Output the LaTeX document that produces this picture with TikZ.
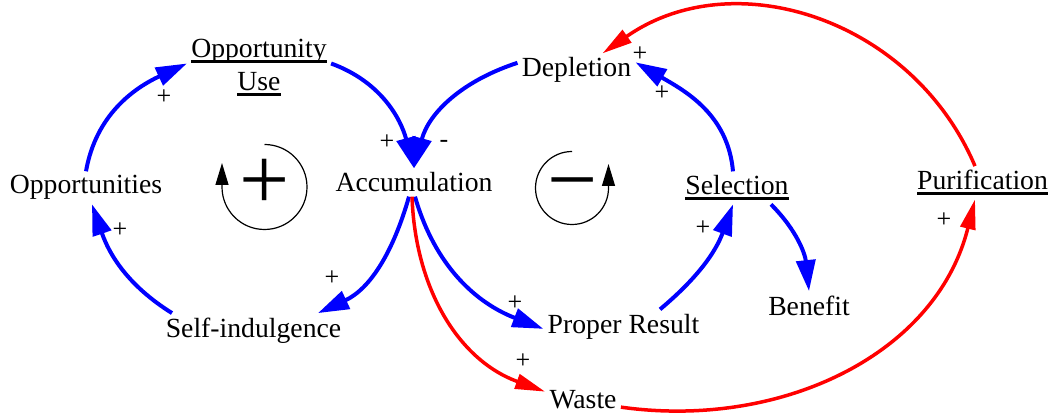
\documentclass[tikz,border=0pt]{standalone}
\usepackage{fontspec}
\setmainfont{Liberation Serif}
\usepackage{tikz}
\usetikzlibrary{arrows.meta, calc}

\newcommand{\varul}[1]{\vtop{\setbox0\hbox{#1}\dp0=0pt\box0\kern1.2pt\hrule height 1.3pt}}

\tikzset{
  var/.style={inner sep=2pt, font=\fontsize{13.85}{16.5}\selectfont},
  sgn/.style={inner sep=0pt, font=\fontsize{13}{13}\selectfont},
  loopsgn/.style={inner sep=0pt, anchor=base, font=\fontsize{44.5}{44.5}\selectfont},
  bluelink/.style={draw=blue, line width=2pt, -{Triangle[length=15.5pt, width=9.5pt]}},
  redlink/.style={draw=red, line width=1.75pt, -{Triangle[length=15pt, width=7.5pt]}},
  looparrow/.style={line width=0.6pt, -{Triangle[length=11pt, width=6.5pt]}}
}

\begin{document}
\begin{tikzpicture}[x=0.5pt, y=-0.5pt]
\useasboundingbox (0,0) rectangle (1052,416);

% Variables
\node[var, anchor=base] (opps) at (86,194) {Opportunities};
\node[var, align=center] (use) at (259,67.5) {\varul{Opportunity}\\\varul{Use}};
\node[var, anchor=base] (acc) at (414,192) {Accumulation};
\node[var, anchor=base] (depl) at (576.5,77) {Depletion};
\node[var, anchor=base] (sel) at (737,195) {\varul{Selection}};
\node[var, anchor=base] (pur) at (982.5,190) {\varul{Purification}};
\node[var, anchor=base] (ben) at (809,315) {Benefit};
\node[var, anchor=base] (pres) at (623.5,333) {Proper Result};
\node[var, anchor=base] (waste) at (583,408) {Waste};
\node[var, anchor=base] (self) at (253.5,337) {Self-indulgence};

% Blue links
\draw[bluelink] (opps.north) to[out=80, in=205] ([yshift=2pt]use.west);
\draw[bluelink] ([yshift=2pt]use.east) to[out=-20, in=105] (acc.north);
\draw[bluelink] ([yshift=3.75pt]depl.west) to[out=198, in=75] (acc.north);
\draw[bluelink] ([xshift=-2pt]sel.north) to[out=95, in=-30] ([yshift=4pt]depl.east);
\draw[bluelink] ([xshift=-2.5pt]acc.south) to[out=-106, in=25] ([xshift=32.25pt]self.north);
\draw[bluelink] ([xshift=-40.75pt]self.north) to[out=148, in=-71] ([xshift=3pt]opps.south);
\draw[bluelink] ([xshift=0.5pt]acc.south) to[out=-74, in=159] ([yshift=-1.25pt]pres.west);
\draw[bluelink] ([xshift=18.25pt]pres.north) to[out=40, in=-110] ([xshift=-2pt]sel.south);
\draw[bluelink] ([xshift=17pt]sel.south) to[out=-45, in=96] (ben.north);

% Red links
\draw[redlink] ([xshift=-1pt]acc.south) to[out=-88, in=160] ([yshift=3.75pt]waste.west);
\draw[redlink] ([yshift=-4pt]waste.east) to[out=-8, in=-104] ([xshift=-3.75pt]pur.south);
\draw[redlink] ([xshift=-3.75pt]pur.north) to[out=113, in=35, looseness=1.05] ([xshift=13pt]depl.north);

% Polarities
\node[sgn] (s1) at (164,97) {+};
\node[sgn] (s2) at (387,142) {+};
\node[sgn] (s3) at (444,144) {-};
\node[sgn] (s4) at (662,93) {+};
\node[sgn] (s5) at (640,54) {+};
\node[sgn] (s6) at (332,278) {+};
\node[sgn] (s7) at (120,230) {+};
\node[sgn] (s8) at (515,303) {+};
\node[sgn] (s9) at (523,361) {+};
\node[sgn] (s10) at (703,228) {+};
\node[sgn] (s11) at (944,220) {+};

% Loop markers
\coordinate (rloop) at (264.5,187);
\coordinate (bloop) at (572,188);
\draw[looparrow] (rloop) ++(0,-42.5) arc[start angle=90, end angle=-180, radius=21.25pt] -- ++(0,-24);
\draw[looparrow] (bloop) ++(0,-36.5) arc[start angle=90, end angle=360, radius=18.25pt] -- ++(0,-24);
\node[loopsgn] (rsign) at (264.5,210) {+};
\node[loopsgn] (bsign) at (573,210) {−};
\end{tikzpicture}
\end{document}
